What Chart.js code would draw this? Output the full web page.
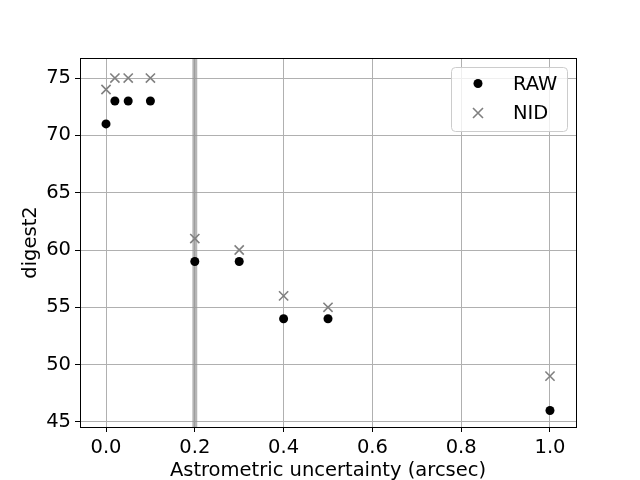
<!DOCTYPE html>
<html>
<head>
<meta charset="utf-8">
<script src="https://cdn.jsdelivr.net/npm/chart.js@4.4.1/dist/chart.umd.min.js"></script>
<style>
  html, body { margin: 0; padding: 0; background: #fff; }
  #wrap { width: 640px; height: 480px; }
</style>
</head>
<body>
<div id="wrap"><canvas id="grafico"></canvas></div>
<script>
// --- datos ---
const uncertainty = [0.0, 0.02, 0.05, 0.1, 0.2, 0.3, 0.4, 0.5, 1.0];
const rawValues = [71, 73, 73, 73, 59, 59, 54, 54, 46];
const nidValues = [74, 75, 75, 75, 61, 60, 56, 55, 49];
const xTicks = [0.0, 0.2, 0.4, 0.6, 0.8, 1.0];
const yTicks = [45, 50, 55, 60, 65, 70, 75];
const bandRange = [0.1945, 0.2055];

const fuente = 'DejaVu Sans';
const tam = 19.5;

function puntos(valores) {
    return uncertainty.map((x, i) => ({ x: x, y: valores[i] }));
}

// banda vertical en 0.2 (detrás de los puntos)
const bandaPlugin = {
    id: 'banda',
    beforeDatasetsDraw(chart) {
        const { ctx, chartArea, scales } = chart;
        const x0 = scales.x.getPixelForValue(bandRange[0]);
        const x1 = scales.x.getPixelForValue(bandRange[1]);
        ctx.save();
        ctx.fillStyle = 'rgba(150,150,150,0.7)';
        ctx.fillRect(x0, chartArea.top, x1 - x0, chartArea.bottom - chartArea.top);
        ctx.restore();
    }
};

// marco + leyenda estilo matplotlib
const marcoPlugin = {
    id: 'marco',
    afterDraw(chart) {
        const { ctx, chartArea } = chart;
        ctx.save();
        ctx.strokeStyle = '#000';
        ctx.lineWidth = 1;
        ctx.strokeRect(Math.round(chartArea.left) + 0.5, Math.round(chartArea.top) + 0.5,
            Math.round(chartArea.right - chartArea.left), Math.round(chartArea.bottom - chartArea.top));

        // leyenda
        const w = 116, h = 64;
        const lx = chartArea.right - 9 - w, ly = chartArea.top + 9;
        ctx.fillStyle = 'rgba(255,255,255,0.8)';
        ctx.strokeStyle = '#cccccc';
        ctx.beginPath();
        ctx.roundRect(lx + 0.5, ly + 0.5, w, h, 4);
        ctx.fill();
        ctx.stroke();

        ctx.font = tam + 'px "' + fuente + '"';
        ctx.textBaseline = 'middle';
        chart.data.datasets.forEach((ds, i) => {
            const cy = ly + 16.5 + i * 29.5;
            const mx = lx + 27;
            if (i === 0) {
                ctx.fillStyle = ds.backgroundColor;
                ctx.beginPath();
                ctx.arc(mx, cy, 4.5, 0, Math.PI * 2);
                ctx.fill();
            } else {
                ctx.strokeStyle = ds.borderColor;
                ctx.lineWidth = 1.6;
                ctx.beginPath();
                ctx.moveTo(mx - 5, cy - 5); ctx.lineTo(mx + 5, cy + 5);
                ctx.moveTo(mx - 5, cy + 5); ctx.lineTo(mx + 5, cy - 5);
                ctx.stroke();
            }
            ctx.fillStyle = '#000';
            ctx.fillText(ds.label, lx + 62, cy + 1);
        });
        ctx.restore();
    }
};

function crearGrafico() {
    const ctx = document.getElementById('grafico').getContext('2d');
    new Chart(ctx, {
        type: 'scatter',
        data: {
            datasets: [
                {
                    label: 'RAW',
                    data: puntos(rawValues),
                    backgroundColor: '#000',
                    borderColor: '#000',
                    pointStyle: 'circle',
                    pointRadius: 4.5,
                    borderWidth: 0
                },
                {
                    label: 'NID',
                    data: puntos(nidValues),
                    backgroundColor: 'rgba(0,0,0,0)',
                    borderColor: '#808080',
                    pointStyle: 'crossRot',
                    pointRadius: 6.5,
                    borderWidth: 1.6
                }
            ]
        },
        options: {
            responsive: false,
            animation: false,
            layout: { padding: { top: 58, right: 64, left: 0, bottom: 0 } },
            plugins: {
                legend: { display: false },
                tooltip: { enabled: false }
            },
            scales: {
                x: {
                    type: 'linear',
                    min: -0.0586,
                    max: 1.0586,
                    afterBuildTicks: s => { s.ticks = xTicks.map(v => ({ value: v })); },
                    afterFit: s => { s.height = 53; },
                    grid: { color: '#b0b0b0', lineWidth: 1, tickColor: '#000', tickLength: 5 },
                    border: { display: false },
                    ticks: {
                        color: '#000',
                        padding: 4,
                        maxRotation: 0,
                        font: { family: fuente, size: tam },
                        callback: v => v.toFixed(1)
                    },
                    title: {
                        display: true,
                        text: 'Astrometric uncertainty (arcsec)',
                        color: '#000',
                        font: { family: fuente, size: tam },
                        padding: { top: 4, bottom: -3 }
                    }
                },
                y: {
                    type: 'linear',
                    min: 44.56,
                    max: 76.75,
                    afterBuildTicks: s => { s.ticks = yTicks.map(v => ({ value: v })); },
                    afterFit: s => { s.width = 80; },
                    grid: { color: '#b0b0b0', lineWidth: 1, tickColor: '#000', tickLength: 5 },
                    border: { display: false },
                    ticks: {
                        color: '#000',
                        padding: 4,
                        font: { family: fuente, size: tam }
                    },
                    title: {
                        display: true,
                        text: 'digest2',
                        color: '#000',
                        font: { family: fuente, size: tam },
                        padding: { top: 19, bottom: 4 }
                    }
                }
            }
        },
        plugins: [bandaPlugin, marcoPlugin]
    });
}

const canvas = document.getElementById('grafico');
canvas.width = 640;
canvas.height = 480;
crearGrafico();
</script>
</body>
</html>
